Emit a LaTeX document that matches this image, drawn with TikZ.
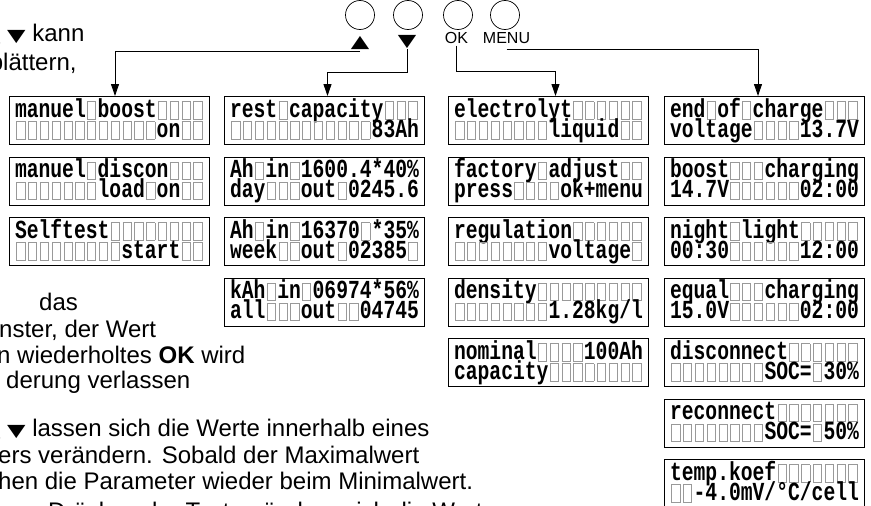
\documentclass[tikz,border=0pt]{standalone}
\usepackage{graphicx}
\usepackage{fontspec}
\setmainfont{Liberation Sans}
\newfontfamily\lcdfont[FakeStretch=0.757]{Liberation Mono}
\newfontfamily\symfont{DejaVu Sans}
\usetikzlibrary{arrows.meta,positioning}

% key symbols
\newcommand\up{{\symfont\scalebox{1}[0.72]{▲}}}
\newcommand\dn{{\symfont\scalebox{1}[0.72]{▼}}}

% one empty LCD cell
\newlength\cellw
\newcommand\bx{\makebox[\cellw]{\color{black!40}\setlength\fboxrule{0.9pt}\setlength\fboxsep{0pt}\fbox{\rule[-1.5pt]{0pt}{16.5pt}\hspace{7.4pt}}}}
\newcommand\lcdrows[2]{\vbox{\baselineskip=20pt\lineskiplimit=-20pt
  \hbox{\rule{0pt}{16.5pt}\smash{#1}}\hbox{\rule[-3.5pt]{0pt}{3.5pt}\smash{#2}}}}

\begin{document}
\begin{tikzpicture}[
    x=1pt, y=-1pt,
    node distance=11.5pt,
    lcdbox/.style={draw, line width=1pt, inner xsep=5.5pt, inner ysep=4pt, minimum width=200pt, minimum height=48pt,
      font=\lcdfont\bfseries\fontsize{26pt}{26pt}\selectfont\settowidth\cellw{0}\let~\bx},
    knob/.style={draw, circle, minimum size=29pt, inner sep=0pt, line width=0.7pt},
    keylbl/.style={inner sep=0pt, anchor=base, font=\fontsize{16pt}{16pt}\selectfont},
    txt/.style={anchor=base west, inner sep=0pt, font=\fontsize{24pt}{26pt}\selectfont},
    flow/.style={-{Triangle[length=12pt,width=8pt]}, line width=0.9pt}
  ]
  \useasboundingbox (0,0) rectangle (871,506);
  \clip (0,0) rectangle (871,506);

  % keys
  \node[knob] (kUp) at (360,15) {};
  \node[knob] (kDown) at (408,15) {};
  \node[knob] (kOk) at (458,15) {};
  \node[knob] (kMenu) at (505,15) {};
  \node[keylbl, font=\fontsize{24pt}{24pt}\selectfont] (lUp) at (360,47) {\up};
  \node[keylbl, font=\fontsize{24pt}{24pt}\selectfont] (lDown) at (407,46.5) {\dn};
  \node[keylbl] (lOk) at (456.5,43.3) {OK};
  \node[keylbl] (lMenu) at (506.5,43.3) {MENU};

  % column 1
  \node[lcdbox, anchor=north west] (a1) at (9,96) {\lcdrows{manuel~boost~~~~}{~~~~~~~~~~~~on~~}};
  \node[lcdbox, below=of a1] (a2) {\lcdrows{manuel~discon~~~}{~~~~~~~load~on~~}};
  \node[lcdbox, below=of a2] (a3) {\lcdrows{Selftest~~~~~~~~}{~~~~~~~~~start~~}};

  % column 2
  \node[lcdbox, anchor=north west] (b1) at (224,96) {\lcdrows{rest~capacity~~~}{~~~~~~~~~~~~83Ah}};
  \node[lcdbox, below=of b1] (b2) {\lcdrows{Ah~in~1600.4*40\%}{day~~~out~0245.6}};
  \node[lcdbox, below=of b2] (b3) {\lcdrows{Ah~in~16370~*35\%}{week~~out~02385~}};
  \node[lcdbox, below=of b3] (b4) {\lcdrows{kAh~in~06974*56\%}{all~~~out~~04745}};

  % column 3
  \node[lcdbox, anchor=north west] (c1) at (448,96) {\lcdrows{electrolyt~~~~~~}{~~~~~~~~liquid~~}};
  \node[lcdbox, below=of c1] (c2) {\lcdrows{factory~adjust~~}{press~~~~ok+menu}};
  \node[lcdbox, below=of c2] (c3) {\lcdrows{regulation~~~~~~}{~~~~~~~~voltage~}};
  \node[lcdbox, below=of c3] (c4) {\lcdrows{density~~~~~~~~~}{~~~~~~~~1.28kg/l}};
  \node[lcdbox, below=of c4] (c5) {\lcdrows{nominal~~~~100Ah}{capacity~~~~~~~~}};

  % column 4
  \node[lcdbox, anchor=north west] (d1) at (664,96) {\lcdrows{end~of~charge~~~}{voltage~~~~13.7V}};
  \node[lcdbox, below=of d1] (d2) {\lcdrows{boost~~~charging}{14.7V~~~~~~02:00}};
  \node[lcdbox, below=of d2] (d3) {\lcdrows{night~light~~~~~}{00:30~~~~~~12:00}};
  \node[lcdbox, below=of d3] (d4) {\lcdrows{equal~~~charging}{15.0V~~~~~~02:00}};
  \node[lcdbox, below=of d4] (d5) {\lcdrows{disconnect~~~~~~}{~~~~~~~~SOC=~30\%}};
  \node[lcdbox, below=of d5] (d6) {\lcdrows{reconnect~~~~~~~}{~~~~~~~~SOC=~50\%}};
  \node[lcdbox, below=of d6] (d7) {\lcdrows{temp.koef~~~~~~~}{~~-4.0mV/°C/cell}};

  % key lines
  \draw[flow] ([yshift=-2pt]lUp.south) -| ([xshift=5.5pt]a1.north);
  \draw[flow] (lDown.south) -- ++(0,24) -| ([xshift=3pt]b1.north);
  \draw[flow] ([yshift=-2pt]lOk.south) -- ++(0,25.5) -| ([xshift=7pt]c1.north);
  \draw[flow] ([yshift=-5.7pt]lMenu.south) -| ([xshift=-6.5pt]d1.north);

  % text
  \node[txt] (t1) at (7,41.7) {\llap{\up\ }\dn\ kann};
  \node[txt] (t2) at (3,70) {\llap{b}lättern,};
  \node[txt] (t3) at (39,310) {das};
  \node[txt] (t4) at (-1,337.5) {nster, der Wert};
  \node[txt] (t5) at (-3,363) {n wiederholtes \textbf{OK} wird};
  \node[txt] (t6) at (6,388) {derung verlassen};
  \node[txt] (t7) at (7,436.5) {\llap{\up\ }\dn\ lassen sich die Werte innerhalb eines};
  \node[txt] (t8) at (-2,463) {ers verändern. Sobald der Maximalwert};
  \node[txt] (t9) at (-2,489.5) {hen die Parameter wieder beim Minimalwert.};
  \node[txt] (t10) at (48,519) {Drücken der Tasten ändern sich die Werte};
\end{tikzpicture}
\end{document}
